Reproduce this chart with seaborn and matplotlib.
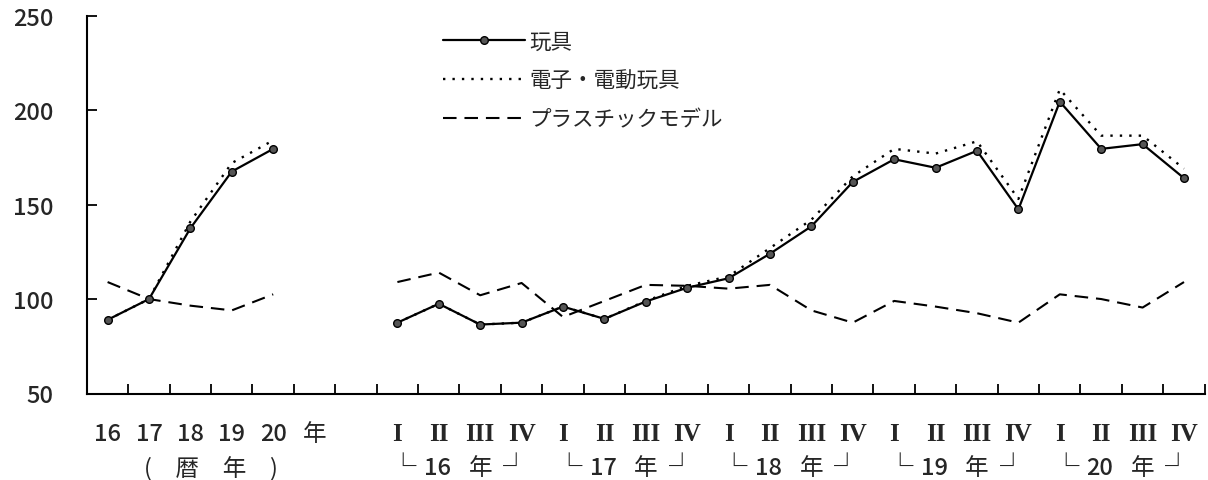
import pandas as pd
import seaborn as sns
import matplotlib.pyplot as plt
from matplotlib.lines import Line2D
from matplotlib.transforms import blended_transform_factory

# Data
years = ["16", "17", "18", "19", "20"]
quarters = ["I", "II", "III", "IV"]
q_years = ["16", "17", "18", "19", "20"]

toy_annual = [89, 100, 137.5, 167.5, 179.5]
elec_annual = [89, 100, 141, 172, 184]
plastic_annual = [109, 100, 96.5, 94, 102.5]

toy_q = [87.5, 97.5, 86.5, 87.5, 96, 89.5, 98.7, 106, 111, 124,
         138.5, 162, 174, 169.5, 178.5, 147.5, 204.5, 179.5, 182, 164]
elec_q = [87.5, 97.5, 86.5, 87.5, 96, 89.5, 99, 107, 112, 127,
          142, 165, 179.5, 177, 183.5, 153, 211, 186.5, 186.5, 169]
plastic_q = [109, 114, 102, 108.5, 90.5, 99, 107.5, 107, 105.5, 107.5,
             94, 87.5, 99, 96, 92.5, 87.5, 102.5, 100, 95.5, 109]

series_names = ["玩具", "電子・電動玩具", "プラスチックモデル"]

# slot layout: annual in slots 0-4, "年" in slot 5, quarters from slot 7
q_start = 7
annual_x = list(range(len(years)))
q_x = [q_start + i for i in range(len(toy_q))]
n_slots = q_start + len(toy_q)

annual = pd.DataFrame({"x": annual_x, "toy": toy_annual,
                       "elec": elec_annual, "plastic": plastic_annual})
quarterly = pd.DataFrame({"x": q_x, "toy": toy_q,
                          "elec": elec_q, "plastic": plastic_q})

sns.set_style("ticks")
plt.rcParams["font.family"] = ["Noto Sans CJK JP", "DejaVu Sans"]

fig = plt.figure(figsize=(12.08, 4.81), dpi=100)
ax = fig.add_axes([86.9 / 1208, 1 - 394.5 / 481, (1204.7 - 86.9) / 1208, (394.5 - 16.7) / 481])

styles = {
    "elec": dict(color="black", lw=1.7, linestyle=(0, (1, 3.0))),
    "plastic": dict(color="black", lw=1.5, linestyle=(0, (6.5, 3.8))),
    "toy": dict(color="black", lw=1.6, linestyle="-", marker="o", markersize=5.5,
                markerfacecolor="#555555", markeredgecolor="black", markeredgewidth=1),
}

for df in (annual, quarterly):
    for key in ("plastic", "elec", "toy"):
        sns.lineplot(data=df, x="x", y=key, ax=ax, **styles[key])

ax.set_xlim(-0.5, n_slots - 0.5)
ax.set_ylim(50, 250)
ax.set_yticks([50, 100, 150, 200, 250])
ax.set_xticks([i + 0.5 for i in range(n_slots)])
ax.set_xticklabels([])
ax.tick_params(axis="both", direction="in", length=7, width=1.3, color="black",
               bottom=True, left=True)
ax.tick_params(axis="y", labelsize=17, pad=24)
for lbl in ax.get_yticklabels():
    lbl.set_fontweight("medium")
ax.set_xlabel("")
ax.set_ylabel("")
for side in ("top", "right"):
    ax.spines[side].set_visible(False)
for side in ("left", "bottom"):
    ax.spines[side].set_color("black")
    ax.spines[side].set_linewidth(1.5)

# x labels
tr = blended_transform_factory(ax.transData, ax.transAxes)
row1 = -0.107
row2 = -0.197
fs = 17
for x, y in zip(annual_x, years):
    ax.text(x, row1, y, transform=tr, ha="center", va="center", fontsize=fs,
            fontweight="medium")
ax.text(len(years), row1, "年", transform=tr, ha="center", va="center", fontsize=fs)
ax.text(2.5, row2, "(　暦　年　)", transform=tr, ha="center", va="center", fontsize=fs)
for i, x in enumerate(q_x):
    ax.text(x, row1, quarters[i % 4], transform=tr, ha="center", va="center",
            fontsize=18, fontweight="bold", family=["Liberation Serif", "DejaVu Serif"])
for j, yy in enumerate(q_years):
    x0 = q_start + 4 * j
    ax.text(x0 + 0.13, row2, "└", transform=tr, ha="center", va="center", fontsize=19)
    ax.text(x0 + 0.97, row2, yy, transform=tr, ha="center", va="center", fontsize=fs,
            fontweight="medium")
    ax.text(x0 + 2.0, row2, "年", transform=tr, ha="center", va="center", fontsize=fs)
    ax.text(x0 + 2.87, row2, "┘", transform=tr, ha="center", va="center", fontsize=19)

# legend
handles = [Line2D([], [], **styles["toy"]),
           Line2D([], [], **styles["elec"]),
           Line2D([], [], **styles["plastic"])]
ax.legend(handles, series_names, loc="upper left",
          bbox_to_anchor=(443 / 1208, 1 - 32 / 481), bbox_transform=fig.transFigure,
          frameon=False, fontsize=15.5, handlelength=3.8, handletextpad=0.2,
          labelspacing=0.78, borderpad=0, borderaxespad=0, numpoints=1)

fig.savefig("out.png", dpi=100)
